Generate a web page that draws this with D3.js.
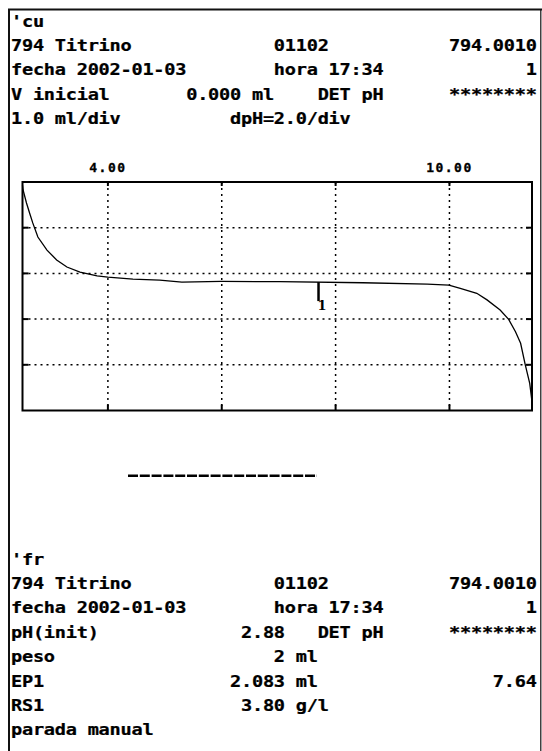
<!DOCTYPE html>
<html><head><meta charset="utf-8">
<script src="https://cdn.jsdelivr.net/npm/d3@7"></script>
<style>html,body{margin:0;padding:0;background:#fff;}svg{display:block}</style>
</head><body>
<svg id="c" width="542" height="751"></svg>
<script>
// ---------- data ----------
const xTickValues = [4, 6, 8, 10];
const xTickLabels = ["4.00", "", "", "10.00"];
const yGridValues = [0, 2, 4, 6, 8, 10];
const xDomain = [2.5, 11.45];
const yDomain = [0, 10];
const volume = [2.50, 2.51, 2.57, 2.63, 2.68, 2.77, 2.93, 3.10, 3.28, 3.51, 3.81, 4.00, 4.44, 4.91, 5.30, 5.99, 7.02, 8.48, 9.61, 9.99, 10.19, 10.48, 10.66, 10.89, 11.04, 11.16, 11.25, 11.33, 11.41, 11.45, 11.45];
const signal = [9.85, 9.65, 9.08, 8.60, 8.21, 7.59, 7.02, 6.59, 6.28, 6.06, 5.89, 5.84, 5.75, 5.71, 5.62, 5.65, 5.64, 5.59, 5.53, 5.49, 5.35, 5.13, 4.84, 4.40, 3.99, 3.45, 2.94, 2.02, 1.19, 0.39, 0.0];
const endpointX = 7.70;
const endpointY = 5.62;
const endpointLabel = "1";

const headerTag = ["'cu"];
const instrumentLine = ["794 Titrino", "01102", "794.0010"];
const dateLine = ["fecha 2002-01-03", "hora 17:34", "1"];
const startLine = ["V inicial", "0.000 ml", "DET pH", "********"];
const scaleLine = ["1.0 ml/div", "dpH=2.0/div"];
const resultTag = ["'fr"];
const initLine = ["pH(init)", "2.88", "DET pH", "********"];
const sampleLine = ["peso", "2", "ml"];
const epLine = ["EP1", "2.083", "ml", "7.64"];
const rsLine = ["RS1", "3.80", "g/l"];
const stopLine = ["parada manual"];

// ---------- drawing ----------
const svg = d3.select("#c");
const MONO = "'DejaVu Sans Mono', monospace";
const COLS = 48, X0 = 11, PITCH = (537 - 11) / 48, SX = 1.2, FS = 15.5;
const LS = PITCH / SX - 0.60205 * FS;

// build a fixed-width printer line: segments placed at column positions
function printerLine(parts, cols) {
  let arr = new Array(COLS).fill(" ");
  parts.forEach((p, i) => {
    for (let k = 0; k < p.length; k++) arr[cols[i] + k] = p[k];
  });
  return arr.join("").replace(/\s+$/, "");
}
function printLine(parts, cols, yb) {
  svg.append("text")
    .attr("transform", `translate(${X0},${yb}) scale(${SX},1)`)
    .attr("font-family", MONO).attr("font-weight", "bold")
    .attr("font-size", FS).attr("letter-spacing", LS).attr("fill", "#000")
    .attr("stroke", "#000").attr("stroke-width", 0.25)
    .style("white-space", "pre")
    .text(printerLine(parts, cols));
}

// outer frame
svg.append("path").attr("d", "M9,751 V9.5 H542").attr("fill", "none").attr("stroke", "#111").attr("stroke-width", 2);
svg.append("line").attr("x1", 540.8).attr("x2", 540.8).attr("y1", 9).attr("y2", 751).attr("stroke", "#111").attr("stroke-width", 1.2);

const lh = 24.4;
const rightCols = (s, endCol) => endCol - s.length + 1;

// header block
let yb = 26.6;
printLine(headerTag, [0], yb);
yb += lh;
printLine(instrumentLine, [0, 24, rightCols(instrumentLine[2], 47)], yb);
yb += lh;
printLine(dateLine, [0, 24, rightCols(dateLine[2], 47)], yb);
yb += lh;
printLine(startLine, [0, 16, 28, rightCols(startLine[3], 47)], yb);
yb += lh;
printLine(scaleLine, [0, 20], yb);

// chart
const x = d3.scaleLinear().domain(xDomain).range([22.5, 532]);
const y = d3.scaleLinear().domain(yDomain).range([410.5, 182]);

const grid = svg.append("g").attr("stroke", "#000").attr("stroke-width", 1.5).attr("stroke-dasharray", "2,4");
grid.selectAll("line.v").data(xTickValues).join("line").attr("class", "v")
  .attr("x1", d => x(d)).attr("x2", d => x(d)).attr("y1", y(10)).attr("y2", y(0));
grid.selectAll("line.h").data(yGridValues.slice(1, -1)).join("line").attr("class", "h")
  .attr("y1", d => y(d)).attr("y2", d => y(d)).attr("x1", x(xDomain[0])).attr("x2", x(xDomain[1]));

// inward ticks
const ticks = svg.append("g").attr("stroke", "#000").attr("stroke-width", 2);
xTickValues.forEach(v => {
  ticks.append("line").attr("x1", x(v)).attr("x2", x(v)).attr("y1", y(0)).attr("y2", y(0) - 6);
  ticks.append("line").attr("x1", x(v)).attr("x2", x(v)).attr("y1", y(10)).attr("y2", y(10) + 4);
});
yGridValues.slice(1, -1).forEach(v => {
  ticks.append("line").attr("y1", y(v)).attr("y2", y(v)).attr("x1", x(xDomain[0])).attr("x2", x(xDomain[0]) + 6);
  ticks.append("line").attr("y1", y(v)).attr("y2", y(v)).attr("x1", x(xDomain[1])).attr("x2", x(xDomain[1]) - 6);
});

// plot border
svg.append("rect").attr("x", x(xDomain[0])).attr("y", y(10))
  .attr("width", x(xDomain[1]) - x(xDomain[0])).attr("height", y(0) - y(10))
  .attr("fill", "none").attr("stroke", "#000").attr("stroke-width", 2);

// tick labels
svg.selectAll("text.xl").data(xTickValues).join("text").attr("class", "xl")
  .attr("x", d => x(d)).attr("y", 172).attr("text-anchor", "middle")
  .attr("font-family", MONO).attr("font-weight", "bold")
  .attr("font-size", 13).attr("letter-spacing", 1.5)
  .attr("stroke", "#000").attr("stroke-width", 0.3)
  .text((d, i) => xTickLabels[i]);

// curve
const pts = volume.map((v, i) => [v, signal[i]]);
svg.append("path").datum(pts)
  .attr("d", d3.line().x(d => x(d[0])).y(d => y(d[1])))
  .attr("fill", "none").attr("stroke", "#000").attr("stroke-width", 1.3);

// endpoint marker
svg.append("line").attr("x1", x(endpointX)).attr("x2", x(endpointX))
  .attr("y1", y(endpointY)).attr("y2", y(endpointY) + 19)
  .attr("stroke", "#000").attr("stroke-width", 2.5);
svg.append("text").attr("x", x(endpointX) - 1).attr("y", y(endpointY) + 28)
  .attr("font-family", "'DejaVu Serif', serif").attr("font-weight", "bold")
  .attr("font-size", 13).text(endpointLabel);

// separator
svg.append("line").attr("x1", 128).attr("x2", 317).attr("y1", 475.7).attr("y2", 475.7)
  .attr("stroke", "#000").attr("stroke-width", 2.5).attr("stroke-dasharray", "10,1.8");

// report block
yb = 564.6;
printLine(resultTag, [0], yb);
yb += lh;
printLine(instrumentLine, [0, 24, rightCols(instrumentLine[2], 47)], yb);
yb += lh;
printLine(dateLine, [0, 24, rightCols(dateLine[2], 47)], yb);
yb += lh;
printLine(initLine, [0, rightCols(initLine[1], 24), 28, rightCols(initLine[3], 47)], yb);
yb += lh;
printLine(sampleLine, [0, rightCols(sampleLine[1], 24), 26], yb);
yb += lh;
printLine(epLine, [0, rightCols(epLine[1], 24), 26, rightCols(epLine[3], 47)], yb);
yb += lh;
printLine(rsLine, [0, rightCols(rsLine[1], 24), 26], yb);
yb += lh;
printLine(stopLine, [0], yb);
</script>
</body></html>
